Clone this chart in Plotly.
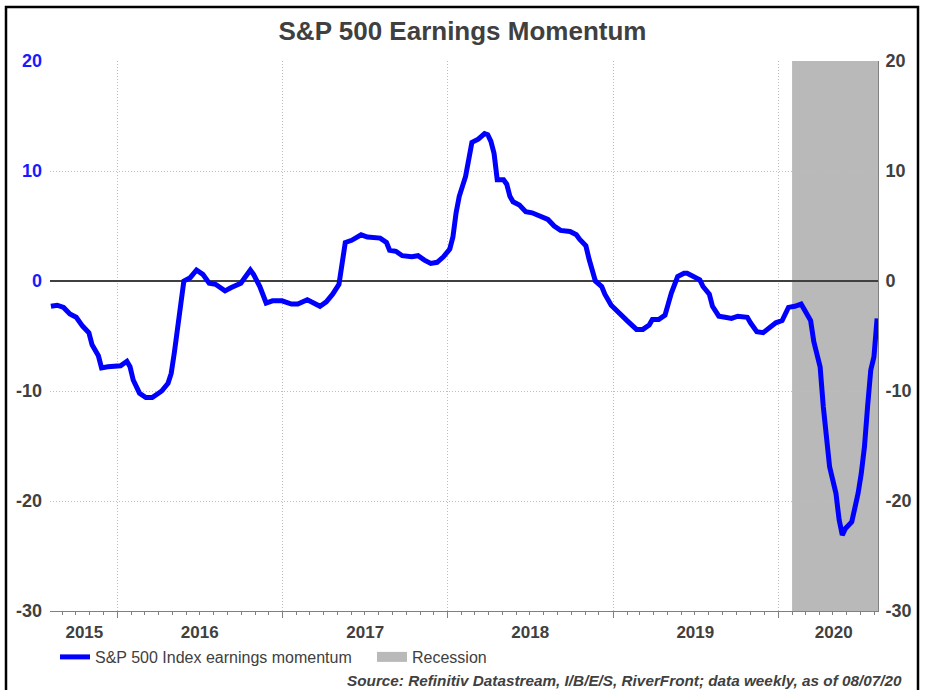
import plotly.graph_objects as go

# ---------------- data ----------------
dates = [
    "2015-08-07", "2015-08-21", "2015-09-04", "2015-09-18", "2015-10-02", "2015-10-16", "2015-10-30",
    "2015-11-06", "2015-11-20", "2015-11-27", "2015-12-11", "2015-12-25", "2016-01-08", "2016-01-22",
    "2016-01-29", "2016-02-05", "2016-02-19", "2016-03-04", "2016-03-18", "2016-04-01", "2016-04-08",
    "2016-04-22", "2016-04-29", "2016-05-06", "2016-05-13", "2016-05-20", "2016-05-27", "2016-06-10",
    "2016-06-24", "2016-07-08", "2016-07-22", "2016-08-05", "2016-08-26", "2016-09-09", "2016-09-30",
    "2016-10-07", "2016-10-21", "2016-10-28", "2016-11-11", "2016-11-25", "2016-12-09", "2016-12-30",
    "2017-01-20", "2017-02-03", "2017-02-24", "2017-03-10", "2017-03-24", "2017-04-07", "2017-04-21",
    "2017-05-05", "2017-05-12", "2017-05-19", "2017-06-02", "2017-06-23", "2017-07-07", "2017-07-21",
    "2017-08-04", "2017-08-18", "2017-08-25", "2017-09-08", "2017-09-22", "2017-10-13", "2017-10-27",
    "2017-11-10", "2017-11-24", "2017-12-08", "2017-12-22", "2018-01-05", "2018-01-12", "2018-01-19",
    "2018-01-26", "2018-02-09", "2018-02-16", "2018-02-23", "2018-03-09", "2018-03-23", "2018-03-30",
    "2018-04-06", "2018-04-13", "2018-04-20", "2018-05-04", "2018-05-11", "2018-05-18", "2018-05-25",
    "2018-06-08", "2018-06-22", "2018-07-06", "2018-07-27", "2018-08-10", "2018-08-24", "2018-09-07",
    "2018-09-28", "2018-10-12", "2018-10-19", "2018-11-02", "2018-11-09", "2018-11-16", "2018-11-23",
    "2018-12-07", "2018-12-14", "2018-12-28", "2019-01-04", "2019-01-18", "2019-02-01", "2019-02-22",
    "2019-03-08", "2019-03-22", "2019-03-29", "2019-04-12", "2019-04-26", "2019-05-03", "2019-05-10",
    "2019-05-24", "2019-06-07", "2019-06-14", "2019-06-28", "2019-07-12", "2019-07-19", "2019-08-02",
    "2019-08-09", "2019-08-23", "2019-09-06", "2019-09-20", "2019-10-04", "2019-10-25", "2019-11-01",
    "2019-11-15", "2019-11-29", "2019-12-13", "2019-12-27", "2020-01-10", "2020-01-24", "2020-02-07",
    "2020-02-21", "2020-02-28", "2020-03-13", "2020-03-20", "2020-04-03", "2020-04-10", "2020-04-17",
    "2020-04-24", "2020-05-08", "2020-05-15", "2020-05-22", "2020-05-29", "2020-06-12", "2020-06-19",
    "2020-06-26", "2020-07-03", "2020-07-10", "2020-07-17", "2020-07-24", "2020-07-31", "2020-08-07",
]
momentum = [
    -2.3, -2.2, -2.4, -3.0, -3.3, -4.1, -4.7,
    -5.8, -6.8, -7.9, -7.8, -7.7, -7.7, -7.3,
    -7.8, -9.0, -10.2, -10.6, -10.6, -10.2, -10.0,
    -9.3, -8.4, -6.5, -4.5, -2.0, 0.0, 0.3,
    1.0, 0.6, -0.2, -0.3, -0.9, -0.6, -0.2,
    0.2, 1.0, 0.6, -0.5, -2.0, -1.8, -1.8,
    -2.1, -2.1, -1.7, -2.0, -2.3, -1.9, -1.2,
    -0.3, 1.6, 3.5, 3.7, 4.2, 4.0, 3.9,
    3.9, 3.5, 2.8, 2.7, 2.3, 2.2, 2.3,
    1.9, 1.6, 1.7, 2.2, 2.9, 4.0, 6.2,
    7.7, 9.5, 11.3, 12.6, 12.9, 13.4, 13.3,
    12.7, 11.6, 9.2, 9.2, 8.8, 7.7, 7.2,
    6.9, 6.3, 6.2, 5.8, 5.6, 5.0, 4.6,
    4.5, 4.2, 3.8, 3.2, 2.0, 0.8, 0.0,
    -0.5, -1.2, -2.2, -2.5, -3.0, -3.6, -4.4,
    -4.4, -4.0, -3.5, -3.5, -3.1, -2.1, -1.1,
    0.4, 0.7, 0.7, 0.4, 0.1, -0.5, -1.2,
    -2.3, -3.2, -3.3, -3.4, -3.2, -3.3, -3.8,
    -4.6, -4.7, -4.3, -3.8, -3.6, -2.4, -2.3,
    -2.1, -2.6, -3.6, -5.5, -7.8, -11.4, -14.4,
    -16.9, -19.3, -21.7, -23.1, -22.5, -21.9, -20.8,
    -19.3, -17.5, -15.1, -11.4, -8.1, -6.9, -3.4,
]
x_range = ["2015-08-05", "2020-08-09"]
recession_start = "2020-02-01"
recession_end = "2020-08-09"
year_labels = ["2015", "2016", "2017", "2018", "2019", "2020"]
year_label_pos = ["2015-10-20", "2016-07-01", "2017-07-02", "2018-07-02", "2019-07-02", "2020-05-03"]
y_ticks = [20, 10, 0, -10, -20, -30]

# ---------------- style ----------------
FONT = "Liberation Sans, Arial, sans-serif"
DARK = "#404040"
BLUE = "#0000ff"
LBLUE = "#1a1aff"
GRID = "#bdbdbd"
SHADE = "#b9b9b9"
DOT = "1px,2px"

left_ticktext = [
    (f"<span style='color:{LBLUE}'>{v}</span>" if v >= 0 else str(v)) for v in y_ticks
]

fig = go.Figure()
fig.add_trace(go.Scatter(
    x=dates, y=momentum, mode="lines",
    line=dict(color=BLUE, width=5),
    name="S&P 500 Index earnings momentum",
    hoverinfo="x+y",
))
# legend entry for the shaded recession band (band itself is a shape below)
fig.add_trace(go.Scatter(
    x=[None], y=[None], mode="lines",
    line=dict(color=SHADE, width=13),
    name="Recession", hoverinfo="skip",
))
# helper trace so the secondary axes (year labels / right axis) exist
fig.add_trace(go.Scatter(
    x=[None], y=[None], xaxis="x2", yaxis="y2",
    showlegend=False, hoverinfo="skip",
))

fig.add_shape(
    type="rect", xref="x", yref="y domain",
    x0=recession_start, x1=recession_end, y0=0, y1=1,
    fillcolor=SHADE, line_width=0, layer="below",
)

# outer frame
fig.add_shape(
    type="rect", xref="paper", yref="paper",
    x0=(6 - 50) / 828, x1=(918 - 50) / 828,
    y0=(611 - 695) / 550, y1=(611 - 7) / 550,
    line=dict(color="black", width=2.5), fillcolor="rgba(0,0,0,0)", layer="above",
)

fig.add_annotation(
    text="<i><b>Source: Refinitiv Datastream, I/B/E/S, RiverFront; data weekly, as of 08/07/20</b></i>",
    xref="paper", yref="paper", x=(904 - 50) / 828, y=(611 - 680) / 550,
    xanchor="right", yanchor="middle", showarrow=False,
    font=dict(family=FONT, size=15.3, color=DARK),
)

fig.update_layout(
    width=925, height=690,
    margin=dict(l=50, r=47, t=61, b=79),
    paper_bgcolor="white", plot_bgcolor="white",
    font=dict(family=FONT, color=DARK),
    title=dict(
        text="<b>S&P 500 Earnings Momentum</b>",
        x=0.5, xanchor="center", y=(690 - 31) / 690, yanchor="middle",
        font=dict(family=FONT, size=26, color=DARK),
    ),
    showlegend=True,
    legend=dict(
        orientation="h", x=5 / 828, xanchor="left",
        y=(611 - 657) / 550, yanchor="middle",
        font=dict(family=FONT, size=16, color=DARK),
        entrywidth=272, entrywidthmode="pixels",
        bgcolor="rgba(0,0,0,0)", itemclick=False, itemdoubleclick=False,
    ),
    xaxis=dict(
        type="date", range=x_range,
        tick0="2016-01-01", dtick="M12",
        ticks="outside", ticklen=6, tickcolor="#808080",
        showticklabels=False,
        showgrid=True, gridcolor=GRID, griddash=DOT, gridwidth=1,
        showline=True, linecolor="#808080", linewidth=1,
        zeroline=False,
        minor=dict(dtick="M1", tick0="2016-01-01", ticks="outside", ticklen=3,
                   tickcolor="#808080", showgrid=False),
    ),
    xaxis2=dict(
        type="date", range=x_range, overlaying="x", anchor="y2", side="bottom",
        tickmode="array", tickvals=year_label_pos, ticktext=year_labels,
        ticks="", showgrid=False, showline=False, zeroline=False,
        ticklabelstandoff=9,
        tickfont=dict(family=FONT, size=17, color=DARK, weight="bold"),
    ),
    yaxis=dict(
        range=[-30, 20], tickmode="array", tickvals=y_ticks, ticktext=left_ticktext,
        showgrid=True, gridcolor=GRID, griddash=DOT, gridwidth=1,
        zeroline=True, zerolinecolor=DARK, zerolinewidth=1.5,
        ticks="", ticklabelstandoff=7, showline=False,
        tickfont=dict(family=FONT, size=18, color=DARK, weight="bold"),
    ),
    yaxis2=dict(
        range=[-30, 20], overlaying="y", anchor="x2", side="right",
        tickmode="array", tickvals=y_ticks, ticktext=[str(v) for v in y_ticks],
        showgrid=False, zeroline=False, ticks="", ticklabelstandoff=3,
        showline=True, linecolor="#808080", linewidth=1,
        tickfont=dict(family=FONT, size=18, color=DARK, weight="bold"),
    ),
)

fig.write_html(
    "out.html",
    config={"displayModeBar": False},
    post_script="document.body.style.margin='0px';",
)
